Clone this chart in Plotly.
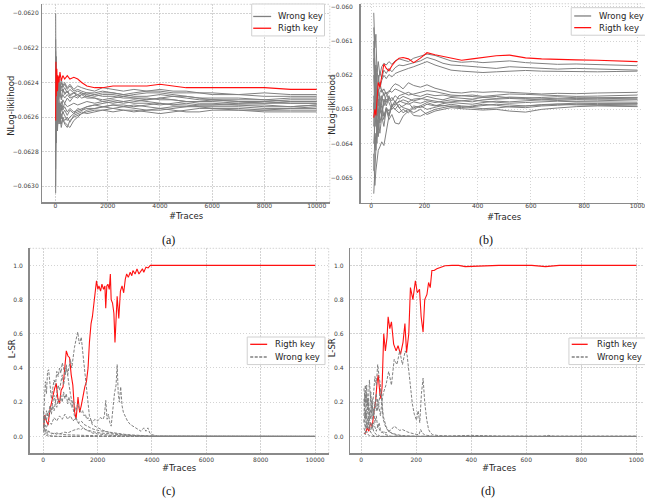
import plotly.graph_objects as go

# ---------------- data ----------------
# (a) NLog-likelihood vs #Traces (0..10000)
a_x = [5, 15, 30, 50, 75, 100, 130, 170, 220, 280, 350, 450, 550, 700, 850, 1000, 1200, 1500, 1800,
       2200, 2600, 3000, 3500, 4000, 4500, 5000, 5500, 6000, 7000, 8000, 9000, 10000]
a_right = [-0.06262, -0.06228, -0.06248, -0.06232, -0.06245, -0.06236, -0.06240, -0.06234, -0.06239, -0.06236,
           -0.06238, -0.06236, -0.06238, -0.06237, -0.06238, -0.06240, -0.06242, -0.06243, -0.06243, -0.06242,
           -0.06242, -0.06242, -0.06242, -0.06241, -0.06242, -0.06243, -0.06243, -0.06243, -0.06243, -0.06243,
           -0.06244, -0.06244]
a_wrong = [
    [-0.06200, -0.06240, -0.06225, -0.06252, -0.06238, -0.06246, -0.06240, -0.06244, -0.06238, -0.06242,
     -0.06240, -0.06243, -0.06241, -0.06244, -0.06242, -0.06243, -0.06244, -0.06245, -0.06243, -0.06244,
     -0.06245, -0.06244, -0.06245, -0.06245, -0.06246, -0.06246, -0.06246, -0.06247, -0.06247, -0.06246,
     -0.06247, -0.06247],
    [-0.06304, -0.06262, -0.06275, -0.06250, -0.06265, -0.06255, -0.06258, -0.06252, -0.06256, -0.06250,
     -0.06252, -0.06249, -0.06251, -0.06248, -0.06249, -0.06247, -0.06246, -0.06246, -0.06245, -0.06246,
     -0.06247, -0.06248, -0.06248, -0.06247, -0.06248, -0.06248, -0.06249, -0.06249, -0.06249, -0.06250,
     -0.06249, -0.06249],
    [-0.06230, -0.06258, -0.06242, -0.06248, -0.06236, -0.06250, -0.06244, -0.06247, -0.06242, -0.06245,
     -0.06243, -0.06246, -0.06244, -0.06246, -0.06245, -0.06246, -0.06247, -0.06248, -0.06247, -0.06247,
     -0.06248, -0.06247, -0.06246, -0.06246, -0.06247, -0.06248, -0.06249, -0.06250, -0.06251, -0.06251,
     -0.06250, -0.06250],
    [-0.06280, -0.06245, -0.06262, -0.06240, -0.06256, -0.06244, -0.06250, -0.06246, -0.06250, -0.06247,
     -0.06249, -0.06247, -0.06249, -0.06248, -0.06247, -0.06249, -0.06248, -0.06249, -0.06250, -0.06249,
     -0.06248, -0.06249, -0.06249, -0.06250, -0.06250, -0.06251, -0.06251, -0.06251, -0.06252, -0.06251,
     -0.06252, -0.06252],
    [-0.06245, -0.06272, -0.06250, -0.06268, -0.06255, -0.06262, -0.06256, -0.06260, -0.06255, -0.06258,
     -0.06256, -0.06259, -0.06256, -0.06258, -0.06255, -0.06256, -0.06254, -0.06253, -0.06252, -0.06251,
     -0.06252, -0.06251, -0.06250, -0.06249, -0.06250, -0.06251, -0.06252, -0.06252, -0.06253, -0.06253,
     -0.06254, -0.06253],
    [-0.06265, -0.06235, -0.06255, -0.06262, -0.06248, -0.06258, -0.06252, -0.06257, -0.06253, -0.06256,
     -0.06254, -0.06257, -0.06255, -0.06257, -0.06256, -0.06255, -0.06254, -0.06253, -0.06254, -0.06253,
     -0.06253, -0.06254, -0.06253, -0.06252, -0.06253, -0.06253, -0.06254, -0.06254, -0.06254, -0.06255,
     -0.06255, -0.06254],
    [-0.06215, -0.06268, -0.06273, -0.06245, -0.06262, -0.06254, -0.06260, -0.06256, -0.06261, -0.06257,
     -0.06259, -0.06262, -0.06260, -0.06258, -0.06257, -0.06256, -0.06255, -0.06255, -0.06254, -0.06255,
     -0.06254, -0.06253, -0.06254, -0.06255, -0.06254, -0.06254, -0.06253, -0.06253, -0.06252, -0.06252,
     -0.06251, -0.06251],
    [-0.06290, -0.06250, -0.06258, -0.06266, -0.06252, -0.06262, -0.06257, -0.06264, -0.06258, -0.06262,
     -0.06263, -0.06265, -0.06266, -0.06262, -0.06260, -0.06258, -0.06257, -0.06256, -0.06256, -0.06255,
     -0.06256, -0.06256, -0.06257, -0.06258, -0.06257, -0.06256, -0.06255, -0.06255, -0.06256, -0.06256,
     -0.06255, -0.06255],
    [-0.06240, -0.06255, -0.06235, -0.06246, -0.06252, -0.06240, -0.06248, -0.06243, -0.06249, -0.06244,
     -0.06247, -0.06245, -0.06248, -0.06246, -0.06248, -0.06247, -0.06249, -0.06249, -0.06251, -0.06250,
     -0.06251, -0.06250, -0.06251, -0.06252, -0.06253, -0.06252, -0.06253, -0.06253, -0.06253, -0.06254,
     -0.06254, -0.06253],
    [-0.06255, -0.06230, -0.06260, -0.06238, -0.06250, -0.06245, -0.06238, -0.06244, -0.06240, -0.06243,
     -0.06241, -0.06244, -0.06242, -0.06245, -0.06244, -0.06245, -0.06246, -0.06247, -0.06246, -0.06246,
     -0.06247, -0.06246, -0.06245, -0.06244, -0.06245, -0.06245, -0.06246, -0.06246, -0.06247, -0.06248,
     -0.06248, -0.06248],
    [-0.06270, -0.06250, -0.06265, -0.06256, -0.06268, -0.06258, -0.06263, -0.06259, -0.06264, -0.06260,
     -0.06262, -0.06260, -0.06263, -0.06259, -0.06258, -0.06257, -0.06258, -0.06257, -0.06256, -0.06257,
     -0.06256, -0.06257, -0.06256, -0.06255, -0.06256, -0.06257, -0.06257, -0.06256, -0.06256, -0.06257,
     -0.06257, -0.06257],
    [-0.06222, -0.06262, -0.06248, -0.06258, -0.06250, -0.06256, -0.06250, -0.06254, -0.06251, -0.06255,
     -0.06252, -0.06254, -0.06253, -0.06252, -0.06253, -0.06252, -0.06251, -0.06252, -0.06251, -0.06252,
     -0.06251, -0.06252, -0.06252, -0.06253, -0.06252, -0.06251, -0.06251, -0.06250, -0.06251, -0.06252,
     -0.06252, -0.06252],
    [-0.06300, -0.06245, -0.06270, -0.06252, -0.06266, -0.06257, -0.06264, -0.06260, -0.06266, -0.06261,
     -0.06264, -0.06266, -0.06262, -0.06260, -0.06259, -0.06258, -0.06256, -0.06255, -0.06254, -0.06253,
     -0.06254, -0.06255, -0.06256, -0.06256, -0.06255, -0.06254, -0.06254, -0.06255, -0.06255, -0.06256,
     -0.06256, -0.06256],
    [-0.06235, -0.06252, -0.06238, -0.06250, -0.06244, -0.06240, -0.06246, -0.06242, -0.06245, -0.06244,
     -0.06246, -0.06245, -0.06247, -0.06246, -0.06247, -0.06246, -0.06248, -0.06247, -0.06248, -0.06248,
     -0.06249, -0.06249, -0.06250, -0.06249, -0.06248, -0.06249, -0.06250, -0.06250, -0.06250, -0.06250,
     -0.06251, -0.06251],
]

# (b) NLog-likelihood vs #Traces (0..1000)
b_x = [10, 14, 18, 22, 27, 33, 40, 48, 57, 67, 78, 90, 105, 120, 140, 160, 185, 210, 240, 270,
       300, 340, 380, 420, 470, 520, 580, 640, 700, 770, 850, 920, 1000]
b_right = [-0.06324, -0.06300, -0.06318, -0.06262, -0.06221, -0.06235, -0.06200, -0.06167, -0.06180, -0.06187,
           -0.06172, -0.06160, -0.06150, -0.06148, -0.06152, -0.06163, -0.06150, -0.06134, -0.06140, -0.06145,
           -0.06148, -0.06156, -0.06152, -0.06147, -0.06143, -0.06141, -0.06149, -0.06152, -0.06154, -0.06155,
           -0.06156, -0.06158, -0.06160]
b_wrong = [
    [-0.06017, -0.06120, -0.06080, -0.06190, -0.06160, -0.06200, -0.06175, -0.06165, -0.06170, -0.06160,
     -0.06168, -0.06158, -0.06152, -0.06155, -0.06160, -0.06150, -0.06145, -0.06138, -0.06142, -0.06150,
     -0.06158, -0.06162, -0.06160, -0.06163, -0.06160, -0.06158, -0.06163, -0.06166, -0.06168, -0.06167,
     -0.06168, -0.06170, -0.06172],
    [-0.06060, -0.06150, -0.06230, -0.06180, -0.06220, -0.06190, -0.06210, -0.06185, -0.06195, -0.06180,
     -0.06190, -0.06178, -0.06170, -0.06172, -0.06168, -0.06162, -0.06158, -0.06148, -0.06155, -0.06165,
     -0.06170, -0.06172, -0.06175, -0.06178, -0.06180, -0.06175, -0.06178, -0.06180, -0.06182, -0.06180,
     -0.06182, -0.06184, -0.06185],
    [-0.06120, -0.06220, -0.06170, -0.06250, -0.06200, -0.06240, -0.06215, -0.06200, -0.06210, -0.06198,
     -0.06205, -0.06195, -0.06190, -0.06185, -0.06180, -0.06175, -0.06168, -0.06160, -0.06170, -0.06178,
     -0.06185, -0.06188, -0.06190, -0.06192, -0.06190, -0.06188, -0.06186, -0.06188, -0.06189, -0.06190,
     -0.06190, -0.06189, -0.06188],
    [-0.06547, -0.06470, -0.06410, -0.06350, -0.06380, -0.06300, -0.06320, -0.06280, -0.06260, -0.06250,
     -0.06235, -0.06225, -0.06230, -0.06240, -0.06222, -0.06230, -0.06235, -0.06228, -0.06238, -0.06245,
     -0.06250, -0.06252, -0.06248, -0.06250, -0.06248, -0.06250, -0.06252, -0.06255, -0.06253, -0.06254,
     -0.06252, -0.06251, -0.06250],
    [-0.06430, -0.06523, -0.06480, -0.06450, -0.06420, -0.06410, -0.06395, -0.06406, -0.06360, -0.06320,
     -0.06290, -0.06280, -0.06260, -0.06255, -0.06250, -0.06258, -0.06262, -0.06255, -0.06260, -0.06258,
     -0.06262, -0.06260, -0.06258, -0.06262, -0.06258, -0.06255, -0.06256, -0.06258, -0.06260, -0.06262,
     -0.06261, -0.06260, -0.06258],
    [-0.06260, -0.06320, -0.06350, -0.06300, -0.06330, -0.06280, -0.06310, -0.06270, -0.06290, -0.06265,
     -0.06275, -0.06260, -0.06270, -0.06262, -0.06268, -0.06275, -0.06270, -0.06262, -0.06268, -0.06272,
     -0.06265, -0.06268, -0.06270, -0.06265, -0.06262, -0.06266, -0.06268, -0.06265, -0.06263, -0.06266,
     -0.06265, -0.06264, -0.06265],
    [-0.06200, -0.06280, -0.06250, -0.06320, -0.06270, -0.06300, -0.06260, -0.06290, -0.06270, -0.06280,
     -0.06300, -0.06290, -0.06275, -0.06280, -0.06285, -0.06278, -0.06282, -0.06275, -0.06280, -0.06276,
     -0.06272, -0.06275, -0.06278, -0.06272, -0.06270, -0.06268, -0.06270, -0.06272, -0.06270, -0.06268,
     -0.06269, -0.06268, -0.06267],
    [-0.06350, -0.06250, -0.06300, -0.06270, -0.06310, -0.06260, -0.06290, -0.06320, -0.06300, -0.06330,
     -0.06315, -0.06340, -0.06343, -0.06320, -0.06305, -0.06290, -0.06295, -0.06285, -0.06290, -0.06283,
     -0.06280, -0.06282, -0.06285, -0.06280, -0.06276, -0.06278, -0.06275, -0.06272, -0.06274, -0.06276,
     -0.06275, -0.06273, -0.06272],
    [-0.06150, -0.06300, -0.06230, -0.06280, -0.06240, -0.06310, -0.06270, -0.06250, -0.06280, -0.06260,
     -0.06290, -0.06275, -0.06295, -0.06290, -0.06280, -0.06300, -0.06290, -0.06280, -0.06288, -0.06290,
     -0.06285, -0.06290, -0.06292, -0.06288, -0.06285, -0.06287, -0.06290, -0.06286, -0.06284, -0.06282,
     -0.06283, -0.06284, -0.06283],
    [-0.06480, -0.06380, -0.06420, -0.06330, -0.06360, -0.06300, -0.06290, -0.06320, -0.06295, -0.06305,
     -0.06290, -0.06300, -0.06285, -0.06295, -0.06300, -0.06310, -0.06300, -0.06315, -0.06305, -0.06300,
     -0.06295, -0.06298, -0.06300, -0.06302, -0.06300, -0.06305, -0.06308, -0.06300, -0.06296, -0.06292,
     -0.06290, -0.06291, -0.06292],
    [-0.06300, -0.06200, -0.06260, -0.06240, -0.06290, -0.06250, -0.06240, -0.06260, -0.06250, -0.06275,
     -0.06265, -0.06280, -0.06295, -0.06310, -0.06300, -0.06318, -0.06320, -0.06310, -0.06300, -0.06295,
     -0.06290, -0.06292, -0.06295, -0.06298, -0.06296, -0.06292, -0.06290, -0.06288, -0.06285, -0.06287,
     -0.06288, -0.06289, -0.06290],
    [-0.06400, -0.06330, -0.06290, -0.06360, -0.06300, -0.06340, -0.06310, -0.06330, -0.06295, -0.06315,
     -0.06290, -0.06300, -0.06310, -0.06300, -0.06310, -0.06295, -0.06290, -0.06300, -0.06295, -0.06288,
     -0.06292, -0.06295, -0.06290, -0.06285, -0.06288, -0.06293, -0.06295, -0.06290, -0.06288, -0.06285,
     -0.06286, -0.06285, -0.06285],
    [-0.06100, -0.06260, -0.06300, -0.06230, -0.06260, -0.06220, -0.06250, -0.06240, -0.06255, -0.06245,
     -0.06250, -0.06240, -0.06245, -0.06250, -0.06258, -0.06255, -0.06250, -0.06245, -0.06248, -0.06252,
     -0.06258, -0.06260, -0.06262, -0.06266, -0.06268, -0.06264, -0.06266, -0.06268, -0.06270, -0.06271,
     -0.06270, -0.06271, -0.06270],
    [-0.06280, -0.06410, -0.06370, -0.06400, -0.06330, -0.06370, -0.06320, -0.06350, -0.06300, -0.06320,
     -0.06290, -0.06285, -0.06280, -0.06272, -0.06278, -0.06270, -0.06268, -0.06272, -0.06276, -0.06280,
     -0.06278, -0.06274, -0.06272, -0.06276, -0.06280, -0.06282, -0.06280, -0.06278, -0.06276, -0.06278,
     -0.06279, -0.06278, -0.06279],
]

# (c) L-SR vs #Traces (0..10000)
c_right_x = [10, 60, 120, 180, 240, 300, 360, 420, 480, 540, 600, 660, 730, 790, 850, 910, 970, 1030, 1090, 1150,
             1210, 1280, 1340, 1400, 1470, 1530, 1590, 1650, 1700, 1760, 1810, 1870, 1920, 1960, 2010, 2050, 2110,
             2160, 2220, 2270, 2300, 2340, 2380, 2430, 2470, 2500, 2550, 2600, 2640, 2680, 2720, 2780, 2840, 2900,
             2960, 3020, 3070, 3130, 3200, 3260, 3300, 3380, 3450, 3520, 3600, 3650, 3700, 3780, 3860, 3940, 4000,
             4200, 4500, 5000, 6000, 7000, 8000, 9000, 10000]
c_right_y = [0.05, 0.125, 0.09, 0.066, 0.15, 0.20, 0.23, 0.28, 0.31, 0.22, 0.19, 0.27, 0.29, 0.38, 0.50, 0.47, 0.46,
             0.36, 0.30, 0.15, 0.10, 0.23, 0.14, 0.18, 0.25, 0.29, 0.32, 0.40, 0.55, 0.66, 0.70, 0.80, 0.86, 0.91,
             0.86, 0.88, 0.85, 0.89, 0.86, 0.88, 0.75, 0.88, 0.89, 0.86, 0.95, 0.80, 0.78, 0.72, 0.55, 0.72, 0.82,
             0.69, 0.85, 0.88, 0.84, 0.92, 0.95, 0.93, 0.96, 0.94, 0.97, 0.95, 0.98, 0.95, 0.97, 0.98, 0.96, 0.99,
             0.985, 1.0, 1.0, 1.0, 1.0, 1.0, 0.998, 1.0, 1.0, 1.0, 1.0]
c_wrong = [
    ([10, 40, 80, 120, 160, 200, 250, 300, 350, 400, 450, 500, 550, 600, 650, 700, 750, 800, 850, 900, 950, 1000,
      1050, 1100, 1150, 1200, 1270, 1330, 1400, 1450, 1500, 1550, 1600, 1650, 1700, 1750, 1800, 1900, 2000, 2100,
      2200, 2300, 2400, 2500, 2700, 2900, 3100, 3300, 3500, 3700, 3900, 10000],
     [0.08, 0.12, 0.10, 0.15, 0.12, 0.14, 0.18, 0.15, 0.20, 0.24, 0.20, 0.26, 0.30, 0.27, 0.33, 0.36, 0.30, 0.34,
      0.40, 0.36, 0.42, 0.45, 0.40, 0.48, 0.52, 0.56, 0.61, 0.54, 0.58, 0.50, 0.42, 0.35, 0.25, 0.18, 0.12, 0.10,
      0.07, 0.06, 0.05, 0.04, 0.035, 0.03, 0.025, 0.02, 0.015, 0.01, 0.007, 0.005, 0.003, 0.002, 0.0, 0.0]),
    ([10, 40, 80, 120, 160, 200, 250, 300, 350, 400, 450, 500, 550, 600, 650, 700, 750, 800, 850, 900, 950, 1000,
      1050, 1100, 1150, 1200, 1270, 1330, 1400, 1500, 1600, 1700, 1800, 2000, 2200, 2500, 2800, 3200, 3700, 10000],
     [0.10, 0.20, 0.32, 0.25, 0.38, 0.39, 0.30, 0.22, 0.28, 0.33, 0.30, 0.38, 0.35, 0.40, 0.37, 0.43, 0.40, 0.36,
      0.42, 0.35, 0.30, 0.25, 0.20, 0.15, 0.12, 0.10, 0.08, 0.07, 0.06, 0.045, 0.035, 0.03, 0.02, 0.015, 0.01,
      0.006, 0.004, 0.002, 0.0, 0.0]),
    ([10, 40, 80, 120, 160, 200, 250, 300, 350, 400, 450, 500, 550, 600, 650, 700, 750, 800, 850, 900, 950, 1000,
      1050, 1100, 1150, 1200, 1270, 1330, 1400, 1450, 1500, 1550, 1600, 1650, 1700, 1750, 1800, 1900, 2000, 2100,
      2200, 2250, 2300, 2350, 2400, 2450, 2500, 2560, 2620, 2680, 2720, 2760, 2800, 2850, 2900, 2950, 3000, 3100,
      3200, 3300, 3400, 3500, 3600, 3700, 3780, 3850, 3920, 4000, 4200, 10000],
     [0.05, 0.08, 0.12, 0.09, 0.14, 0.11, 0.16, 0.13, 0.18, 0.15, 0.20, 0.17, 0.22, 0.19, 0.24, 0.20, 0.26, 0.22,
      0.25, 0.19, 0.23, 0.20, 0.17, 0.21, 0.18, 0.15, 0.19, 0.16, 0.14, 0.15, 0.12, 0.13, 0.10, 0.11, 0.09, 0.10,
      0.08, 0.10, 0.09, 0.11, 0.10, 0.12, 0.21, 0.10, 0.13, 0.08, 0.06, 0.18, 0.25, 0.30, 0.42, 0.25, 0.20, 0.29,
      0.18, 0.14, 0.12, 0.09, 0.07, 0.06, 0.05, 0.04, 0.03, 0.05, 0.03, 0.05, 0.02, 0.01, 0.002, 0.0]),
    ([10, 60, 120, 200, 300, 400, 500, 600, 700, 800, 900, 1000, 1100, 1200, 1300, 1400, 1500, 1600, 1700, 1800,
      1900, 2000, 2200, 2400, 2600, 2800, 3000, 3300, 3600, 3900, 4200, 10000],
     [0.12, 0.07, 0.05, 0.09, 0.07, 0.11, 0.09, 0.12, 0.10, 0.13, 0.10, 0.12, 0.09, 0.11, 0.08, 0.09, 0.07, 0.06,
      0.05, 0.045, 0.04, 0.035, 0.03, 0.025, 0.02, 0.015, 0.012, 0.008, 0.005, 0.003, 0.001, 0.0]),
    ([10, 60, 120, 200, 300, 400, 500, 600, 700, 800, 900, 1000, 1100, 1200, 1300, 1400, 1460, 1550, 1650, 1750,
      1900, 2100, 2400, 2800, 3200, 3600, 4000, 10000],
     [0.06, 0.03, 0.02, 0.03, 0.02, 0.015, 0.02, 0.015, 0.02, 0.025, 0.02, 0.03, 0.035, 0.04, 0.045, 0.04, 0.05,
      0.04, 0.035, 0.03, 0.025, 0.02, 0.015, 0.01, 0.006, 0.003, 0.001, 0.0]),
    ([10, 40, 80, 120, 160, 200, 300, 400, 600, 10000],
     [0.15, 0.06, 0.03, 0.02, 0.01, 0.005, 0.003, 0.002, 0.0, 0.0]),
    ([10, 40, 80, 120, 200, 400, 10000],
     [0.04, 0.01, 0.02, 0.005, 0.002, 0.0, 0.0]),
    ([10, 40, 80, 120, 160, 200, 300, 400, 500, 600, 800, 1000, 1500, 2000, 3000, 10000],
     [0.10, 0.05, 0.03, 0.04, 0.02, 0.03, 0.015, 0.02, 0.012, 0.015, 0.01, 0.01, 0.006, 0.004, 0.001, 0.0]),
]

# (d) L-SR vs #Traces (0..1000)
d_right_x = [10, 16, 22, 28, 34, 40, 46, 52, 58, 62, 68, 72, 76, 82, 88, 94, 98, 104, 110, 118, 127, 134, 143,
             152, 159, 165, 173, 179, 188, 197, 204, 212, 218, 225, 231, 239, 245, 251, 257, 265, 275, 290, 305,
             330, 354, 378, 414, 450, 500, 560, 620, 670, 720, 800, 900, 1000]
d_right_y = [0.017, 0.02, 0.05, 0.03, 0.08, 0.056, 0.14, 0.20, 0.32, 0.36, 0.25, 0.22, 0.29, 0.60, 0.50, 0.58,
             0.70, 0.63, 0.67, 0.54, 0.50, 0.53, 0.48, 0.55, 0.66, 0.49, 0.60, 0.87, 0.80, 0.91, 0.84, 0.86, 0.70,
             0.61, 0.80, 0.83, 0.90, 0.87, 0.97, 0.97, 0.98, 0.99, 0.998, 1.0, 1.0, 0.993, 0.995, 1.0, 1.0, 1.0,
             1.0, 0.993, 1.0, 1.0, 1.0, 1.0]
d_wrong = [
    ([10, 15, 20, 25, 30, 35, 40, 45, 50, 55, 60, 65, 70, 75, 80, 90, 100, 110, 120, 130, 140, 150, 160, 167, 175,
      180, 186, 193, 201, 207, 213, 219, 225, 231, 238, 245, 252, 260, 280, 320, 360, 400, 450, 500, 660, 680,
      700, 1000],
     [0.10, 0.05, 0.12, 0.08, 0.15, 0.10, 0.18, 0.12, 0.20, 0.15, 0.22, 0.18, 0.12, 0.20, 0.25, 0.30, 0.38, 0.30,
      0.45, 0.42, 0.50, 0.42, 0.50, 0.475, 0.35, 0.30, 0.19, 0.13, 0.095, 0.15, 0.08, 0.25, 0.34, 0.20, 0.10,
      0.04, 0.02, 0.01, 0.005, 0.002, 0.006, 0.006, 0.004, 0.001, 0.0, 0.006, 0.0, 0.0]),
    ([10, 15, 20, 25, 30, 35, 40, 45, 50, 55, 60, 65, 70, 75, 80, 90, 100, 110, 120, 130, 150, 200, 1000],
     [0.28, 0.20, 0.25, 0.15, 0.33, 0.20, 0.15, 0.28, 0.35, 0.30, 0.42, 0.35, 0.30, 0.20, 0.10, 0.05, 0.03, 0.02,
      0.015, 0.01, 0.005, 0.0, 0.0]),
    ([10, 15, 20, 25, 30, 35, 40, 45, 50, 55, 60, 65, 70, 75, 80, 90, 100, 110, 120, 130, 140, 150, 160, 170, 180,
      190, 200, 210, 216, 222, 230, 240, 250, 260, 1000],
     [0.05, 0.02, 0.08, 0.04, 0.10, 0.06, 0.04, 0.08, 0.05, 0.03, 0.06, 0.04, 0.03, 0.02, 0.03, 0.02, 0.03, 0.04,
      0.06, 0.045, 0.035, 0.04, 0.03, 0.025, 0.02, 0.015, 0.012, 0.01, 0.04, 0.02, 0.01, 0.006, 0.004, 0.0, 0.0]),
    ([10, 15, 20, 25, 30, 35, 40, 45, 50, 55, 60, 65, 70, 75, 80, 90, 100, 110, 120, 150, 1000],
     [0.18, 0.25, 0.12, 0.20, 0.10, 0.15, 0.22, 0.12, 0.18, 0.25, 0.15, 0.20, 0.28, 0.22, 0.12, 0.06, 0.03, 0.02,
      0.01, 0.0, 0.0]),
    ([10, 15, 20, 25, 30, 35, 40, 45, 50, 55, 60, 65, 70, 75, 80, 90, 110, 1000],
     [0.12, 0.30, 0.18, 0.22, 0.12, 0.26, 0.10, 0.16, 0.08, 0.12, 0.05, 0.08, 0.04, 0.03, 0.02, 0.01, 0.0, 0.0]),
    ([10, 15, 20, 25, 30, 35, 40, 45, 50, 55, 60, 70, 1000],
     [0.22, 0.10, 0.30, 0.12, 0.06, 0.04, 0.08, 0.03, 0.02, 0.01, 0.01, 0.0, 0.0]),
    ([10, 15, 20, 25, 30, 35, 40, 50, 1000],
     [0.08, 0.15, 0.05, 0.10, 0.04, 0.02, 0.01, 0.0, 0.0]),
    ([10, 15, 20, 25, 30, 40, 1000],
     [0.02, 0.01, 0.03, 0.01, 0.005, 0.0, 0.0]),
]

nll_a_ticks = [-0.0630, -0.0628, -0.0626, -0.0624, -0.0622, -0.0620]
nll_a_labels = ["\u22120.0630", "\u22120.0628", "\u22120.0626", "\u22120.0624", "\u22120.0622", "\u22120.0620"]
nll_b_ticks = [-0.065, -0.064, -0.063, -0.062, -0.061, -0.060]
nll_b_labels = ["\u22120.065", "\u22120.064", "\u22120.063", "\u22120.062", "\u22120.061", "\u22120.060"]
lsr_ticks = [0.0, 0.2, 0.4, 0.6, 0.8, 1.0]
lsr_labels = ["0.0", "0.2", "0.4", "0.6", "0.8", "1.0"]
x10k_ticks = [0, 2000, 4000, 6000, 8000, 10000]
x1k_ticks = [0, 200, 400, 600, 800, 1000]

# ---------------- figure ----------------
W, H = 645, 501
FONT = "DejaVu Sans"
GRAY = "#808080"
RED = "#ff1010"
GRID = "#c8c8c8"
GRIDDASH = "1.5px,1.5px"
TXT = "#262626"


def fx(p):
    return p / W


def fy(p):
    return 1 - p / H


fig = go.Figure()

# (a)
for ys in a_wrong:
    fig.add_trace(go.Scatter(x=a_x, y=ys, mode="lines", line=dict(color=GRAY, width=1),
                             xaxis="x", yaxis="y", showlegend=False, hoverinfo="skip"))
fig.add_trace(go.Scatter(x=a_x, y=a_right, mode="lines", line=dict(color=RED, width=1.1),
                         xaxis="x", yaxis="y", showlegend=False, hoverinfo="skip"))
# (b)
for ys in b_wrong:
    fig.add_trace(go.Scatter(x=b_x, y=ys, mode="lines", line=dict(color=GRAY, width=1),
                             xaxis="x2", yaxis="y2", showlegend=False, hoverinfo="skip"))
fig.add_trace(go.Scatter(x=b_x, y=b_right, mode="lines", line=dict(color=RED, width=1.1),
                         xaxis="x2", yaxis="y2", showlegend=False, hoverinfo="skip"))
# (c)
fig.add_trace(go.Scatter(x=c_right_x, y=c_right_y, mode="lines", line=dict(color=RED, width=1.1),
                         xaxis="x3", yaxis="y3", showlegend=False, hoverinfo="skip"))
for xs, ys in c_wrong:
    fig.add_trace(go.Scatter(x=xs, y=ys, mode="lines", line=dict(color=GRAY, width=1, dash="3px,1.5px"),
                             xaxis="x3", yaxis="y3", showlegend=False, hoverinfo="skip"))
# (d)
fig.add_trace(go.Scatter(x=d_right_x, y=d_right_y, mode="lines", line=dict(color=RED, width=1.1),
                         xaxis="x4", yaxis="y4", showlegend=False, hoverinfo="skip"))
for xs, ys in d_wrong:
    fig.add_trace(go.Scatter(x=xs, y=ys, mode="lines", line=dict(color=GRAY, width=1, dash="3px,1.5px"),
                             xaxis="x4", yaxis="y4", showlegend=False, hoverinfo="skip"))

common = dict(showgrid=True, gridcolor=GRID, griddash=GRIDDASH, gridwidth=0.8, zeroline=False,
              showline=True, linecolor="#8a8a8a", linewidth=1.5, ticks="", ticklabeloverflow="allow",
              tickfont=dict(family=FONT, size=6, color="#404040"), fixedrange=True, tickmode="array")

fig.update_layout(
    width=W, height=H, margin=dict(l=0, r=0, t=0, b=0),
    paper_bgcolor="white", plot_bgcolor="white", showlegend=False,
    xaxis=dict(common, domain=[fx(42.6), fx(330.8)], range=[-500, 10500], anchor="y", ticklabelstandoff=-3,
               tickvals=x10k_ticks, ticktext=[str(v) for v in x10k_ticks]),
    yaxis=dict(common, domain=[fy(201.6), fy(3.3)], range=[-0.063092, -0.061948], anchor="x", ticklabelstandoff=1,
               tickvals=nll_a_ticks, ticktext=nll_a_labels),
    xaxis2=dict(common, domain=[fx(361.7), 1.0], range=[-39.5, 1021], anchor="y2", ticklabelstandoff=-3,
                tickvals=x1k_ticks, ticktext=[str(v) for v in x1k_ticks]),
    yaxis2=dict(common, domain=[fy(202.1), fy(2.75)], range=[-0.065735, -0.059905], anchor="x2",
                ticklabelstandoff=5, tickvals=nll_b_ticks, ticktext=nll_b_labels),
    xaxis3=dict(common, domain=[fx(29.7), fx(329.7)], range=[-500, 10500], anchor="y3",
                tickvals=x10k_ticks, ticktext=[str(v) for v in x10k_ticks]),
    yaxis3=dict(common, domain=[fy(453.4), fy(247.8)], range=[-0.1, 1.1], anchor="x3", ticklabelstandoff=4,
                tickvals=lsr_ticks, ticktext=lsr_labels),
    xaxis4=dict(common, domain=[fx(351.4), 1.0], range=[-39.5, 1024.3], anchor="y4",
                tickvals=x1k_ticks, ticktext=[str(v) for v in x1k_ticks]),
    yaxis4=dict(common, domain=[fy(453.4), fy(247.8)], range=[-0.1, 1.1], anchor="x4", ticklabelstandoff=4,
                tickvals=lsr_ticks, ticktext=lsr_labels),
)

shapes = []
# dotted top / right borders
for xa, ya, right in [("x", "y", True), ("x2", "y2", False), ("x3", "y3", True), ("x4", "y4", False)]:
    shapes.append(dict(type="line", xref=f"{xa} domain", yref=f"{ya} domain", x0=0, x1=1, y0=1, y1=1,
                       line=dict(color=GRID, width=0.8, dash=GRIDDASH), layer="below"))
    if right:
        shapes.append(dict(type="line", xref=f"{xa} domain", yref=f"{ya} domain", x0=1, x1=1, y0=0, y1=1,
                           line=dict(color=GRID, width=0.8, dash=GRIDDASH), layer="below"))

annotations = []


def legend(box, rows):
    x0, x1, y0, y1 = box
    shapes.append(dict(type="rect", xref="paper", yref="paper", x0=fx(x0), x1=fx(x1), y0=fy(y1), y1=fy(y0),
                       line=dict(color="#d0d0d0", width=1), fillcolor="rgba(255,255,255,0.85)", layer="above"))
    for (sx0, sx1, ty, tx, label, color, dash) in rows:
        shapes.append(dict(type="line", xref="paper", yref="paper", x0=fx(sx0), x1=fx(sx1), y0=fy(ty), y1=fy(ty),
                           line=dict(color=color, width=1.3, dash=dash), layer="above"))
        annotations.append(dict(xref="paper", yref="paper", x=fx(tx), y=fy(ty), text=label, showarrow=False,
                                xanchor="left", yanchor="middle", font=dict(family=FONT, size=8.5, color=TXT)))


legend((252.5, 325.5, 3, 35), [(254, 272, 15.5, 277, "Wrong key", GRAY, "solid"),
                                (254, 272, 27.3, 277, "Rigth key", RED, "solid")])
legend((573, 660, 6.7, 34.3), [(576, 593, 15, 598.5, "Wrong key", GRAY, "solid"),
                                (576, 593, 26.7, 598.5, "Rigth key", RED, "solid")])
legend((248, 326, 336.7, 364.3), [(251, 268, 344, 274, "Rigth key", RED, "solid"),
                                   (251, 268, 356.7, 274, "Wrong key", GRAY, "3px,1.5px")])
legend((570.7, 660, 337.7, 364.3), [(573.5, 589.5, 344, 596.5, "Rigth key", RED, "solid"),
                                     (573.5, 589.5, 356.7, 596.5, "Wrong key", GRAY, "3px,1.5px")])

# axis titles
for (x, y, text, ang) in [(11, 105, "NLog-liklihood", -90), (333, 104, "NLog-liklihood", -90),
                          (12, 348, "L-SR", -90), (333, 347, "L-SR", -90),
                          (187, 215, "#Traces", 0), (506, 216, "#Traces", 0),
                          (180, 468, "#Traces", 0), (501, 468, "#Traces", 0)]:
    annotations.append(dict(xref="paper", yref="paper", x=fx(x), y=fy(y), text=text, textangle=ang,
                            showarrow=False, xanchor="center", yanchor="middle",
                            font=dict(family=FONT, size=8.5, color=TXT)))

# captions
for (x, y, text) in [(169, 239, "(a)"), (488, 239, "(b)"), (169, 490.5, "(c)"), (490, 490.5, "(d)")]:
    annotations.append(dict(xref="paper", yref="paper", x=fx(x), y=fy(y), text=text, showarrow=False,
                            xanchor="center", yanchor="middle",
                            font=dict(family="Liberation Serif", size=12, color="#111111")))

fig.update_layout(shapes=shapes, annotations=annotations)
fig.write_html("out.html", config={"displayModeBar": False, "staticPlot": True},
               post_script="document.body.style.margin='0px';document.body.style.overflow='hidden';")
